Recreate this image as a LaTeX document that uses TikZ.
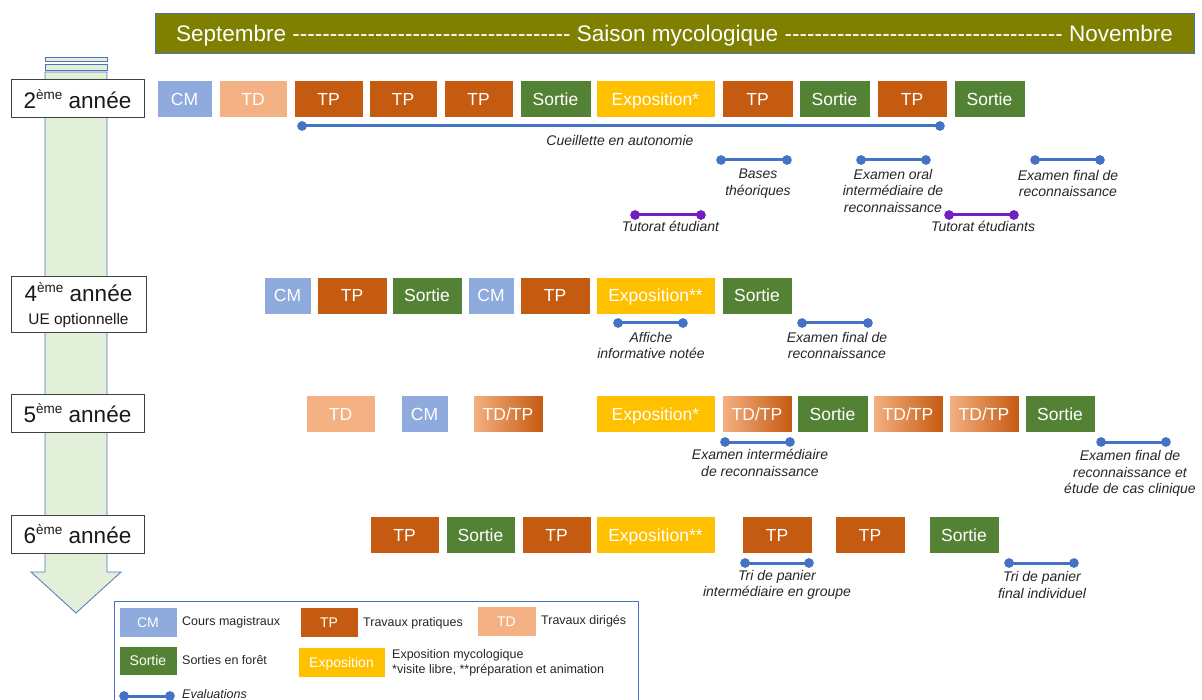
\documentclass[tikz,border=0pt]{standalone}
\usepackage{fontspec}
\setmainfont{Liberation Sans}
\usetikzlibrary{arrows.meta}
\definecolor{cmcol}{HTML}{8FAADC}
\definecolor{tdcol}{HTML}{F4B183}
\definecolor{tpcol}{HTML}{C55A11}
\definecolor{sortcol}{HTML}{548235}
\definecolor{expocol}{HTML}{FFC000}
\definecolor{bancol}{HTML}{808000}
\definecolor{evalcol}{HTML}{4472C4}
\definecolor{tutcol}{HTML}{7020C0}
\definecolor{arrfill}{HTML}{E2EFD9}
\definecolor{arrline}{HTML}{4F74B8}
\definecolor{txtcol}{HTML}{262626}
\newcommand\yrsup[1]{\raisebox{0.75ex}{\fontsize{13.5}{13.5}\selectfont #1}}
\begin{document}
\begin{tikzpicture}[x=1pt,y=-1pt,
  act/.style={draw=white, line width=0.6pt, text=white, inner sep=0pt, minimum height=37pt, text height=12.5pt, text depth=0pt, font=\fontsize{17.5}{20}\selectfont},
  cmbox/.style={act, fill=cmcol},
  tdbox/.style={act, fill=tdcol},
  tpbox/.style={act, fill=tpcol},
  sortbox/.style={act, fill=sortcol},
  expobox/.style={act, fill=expocol},
  tdtpbox/.style={act, left color=tdcol, right color=tpcol},
  legbox/.style={minimum height=30pt, text height=10pt, font=\fontsize{14}{16}\selectfont},
  legtxt/.style={anchor=west, inner sep=0pt, text=black!85, font=\fontsize{12.5}{15}\selectfont},
  evalline/.style={draw=evalcol, line width=3pt, {Circle[length=9.5pt]}-{Circle[length=9.5pt]}, shorten <=-4.7pt, shorten >=-4.7pt},
  tutline/.style={evalline, draw=tutcol},
  lbl/.style={text=txtcol, font=\fontsize{14}{16.5}\selectfont\itshape, align=center, inner sep=0pt},
  yearbox/.style={draw=black!75, fill=white, line width=1pt, text=black!90, font=\fontsize{22.5}{26}\selectfont, inner sep=0pt, minimum width=133pt, minimum height=38pt, align=center},
  banner/.style={draw=evalcol, fill=bancol, line width=0.8pt, text=white, inner sep=0pt, minimum width=1039pt, minimum height=40pt, text height=16.1pt, text depth=0pt, font=\fontsize{22.5}{26}\selectfont}
]
\useasboundingbox (0,0) rectangle (1202,700);

% banner
\node[banner] (ban) at (674.5,33) {\hbox to 997pt{Septembre\ \xleaders\hbox{-}\hfill\ Saison mycologique\ \xleaders\hbox{-}\hfill\ Novembre}};

% left arrow
\draw[fill=arrfill, draw=arrline, line width=0.8pt] (45,57.7) rectangle (107,61.7);
\draw[fill=arrfill, draw=arrline, line width=0.8pt] (45,64.3) rectangle (107,70);
\draw[fill=arrfill, draw=arrline, line width=0.8pt] (45,72) -- (107,72) -- (107,572) -- (121,572) -- (76,613) -- (31,572) -- (45,572) -- cycle;

% year labels
\node[yearbox] (y2) at (77.5,99) {2\yrsup{ème} année};
\node[yearbox, minimum width=135pt, minimum height=56pt] (y4) at (78.5,305) {4\yrsup{ème} année\\[-3pt]{\fontsize{15.4}{17}\selectfont UE optionnelle}};
\node[yearbox] (y5) at (77.5,413.5) {5\yrsup{ème} année};
\node[yearbox] (y6) at (77.5,534.5) {6\yrsup{ème} année};

% row 2eme
\node[cmbox, minimum width=55pt] (a1) at (184.5,99) {CM};
\node[tdbox, minimum width=68pt] (a2) at (253,99) {TD};
\node[tpbox, minimum width=69pt] (a3) at (328.5,99) {TP};
\node[tpbox, minimum width=68pt] (a4) at (403,99) {TP};
\node[tpbox, minimum width=69pt] (a5) at (478.5,99) {TP};
\node[sortbox, minimum width=71pt] (a6) at (555.5,99) {Sortie};
\node[expobox, minimum width=119pt] (a7) at (655.5,99) {Exposition*};
\node[tpbox, minimum width=71pt] (a8) at (757.5,99) {TP};
\node[sortbox, minimum width=71pt] (a9) at (834.5,99) {Sortie};
\node[tpbox, minimum width=70pt] (a10) at (912,99) {TP};
\node[sortbox, minimum width=71pt] (a11) at (989.5,99) {Sortie};

% row 4eme
\node[cmbox, minimum width=47pt] (b1) at (287.5,295.5) {CM};
\node[tpbox, minimum width=70pt] (b2) at (352,295.5) {TP};
\node[sortbox, minimum width=70pt] (b3) at (427,295.5) {Sortie};
\node[cmbox, minimum width=46pt] (b4) at (491,295.5) {CM};
\node[tpbox, minimum width=70pt] (b5) at (555,295.5) {TP};
\node[expobox, minimum width=119pt] (b6) at (655.5,295.5) {Exposition**};
\node[sortbox, minimum width=70pt] (b7) at (757,295.5) {Sortie};

% row 5eme
\node[tdbox, minimum width=69pt] (c1) at (340.5,414) {TD};
\node[cmbox, minimum width=47pt] (c2) at (424.5,414) {CM};
\node[tdtpbox, minimum width=70pt] (c3) at (508,414) {TD/TP};
\node[expobox, minimum width=119pt] (c4) at (655.5,414) {Exposition*};
\node[tdtpbox, minimum width=70pt] (c5) at (757,414) {TD/TP};
\node[sortbox, minimum width=71pt] (c6) at (832.5,414) {Sortie};
\node[tdtpbox, minimum width=70pt] (c7) at (908,414) {TD/TP};
\node[tdtpbox, minimum width=70pt] (c8) at (984,414) {TD/TP};
\node[sortbox, minimum width=70pt] (c9) at (1060,414) {Sortie};

% row 6eme
\node[tpbox, minimum width=69pt] (d1) at (404.5,535) {TP};
\node[sortbox, minimum width=69pt] (d2) at (480.5,535) {Sortie};
\node[tpbox, minimum width=69pt] (d3) at (556.5,535) {TP};
\node[expobox, minimum width=119pt] (d4) at (655.5,535) {Exposition**};
\node[tpbox, minimum width=70pt] (d5) at (777,535) {TP};
\node[tpbox, minimum width=70pt] (d6) at (870,535) {TP};
\node[sortbox, minimum width=70pt] (d7) at (964,535) {Sortie};

% evaluation lines
\coordinate (e1a) at (302,126); \coordinate (e1b) at (940,126);
\coordinate (e2a) at (721,160); \coordinate (e2b) at (787,160);
\coordinate (e3a) at (861,160); \coordinate (e3b) at (926,160);
\coordinate (e4a) at (1035,160); \coordinate (e4b) at (1100,160);
\coordinate (t1a) at (635,215); \coordinate (t1b) at (701,215);
\coordinate (t2a) at (949,215); \coordinate (t2b) at (1014,215);
\coordinate (e5a) at (618,323); \coordinate (e5b) at (683,323);
\coordinate (e6a) at (802,323); \coordinate (e6b) at (868,323);
\coordinate (e7a) at (725,442); \coordinate (e7b) at (790,442);
\coordinate (e8a) at (1101,442); \coordinate (e8b) at (1166,442);
\coordinate (e9a) at (745,563); \coordinate (e9b) at (809,563);
\coordinate (e10a) at (1009,563); \coordinate (e10b) at (1074,563);

\draw[evalline] (e1a) -- (e1b);
\draw[evalline] (e2a) -- (e2b);
\draw[evalline] (e3a) -- (e3b);
\draw[evalline] (e4a) -- (e4b);
\draw[tutline] (t1a) -- (t1b);
\draw[tutline] (t2a) -- (t2b);
\draw[evalline] (e5a) -- (e5b);
\draw[evalline] (e6a) -- (e6b);
\draw[evalline] (e7a) -- (e7b);
\draw[evalline] (e8a) -- (e8b);
\draw[evalline] (e9a) -- (e9b);
\draw[evalline] (e10a) -- (e10b);

% labels
\node[lbl] (l1) at (620,140) {Cueillette en autonomie};
\node[lbl] (l2) at (758,183.5) {Bases\\théoriques};
\node[lbl] (l3) at (893,190.5) {Examen oral\\intermédiaire de\\reconnaissance};
\node[lbl] (l4) at (1068,183.5) {Examen final de\\reconnaissance};
\node[lbl] (l5) at (670.5,226.5) {Tutorat étudiant};
\node[lbl] (l6) at (983,226.5) {Tutorat étudiants};
\node[lbl] (l7) at (651,345.5) {Affiche\\informative notée};
\node[lbl] (l8) at (837,345.5) {Examen final de\\reconnaissance};
\node[lbl] (l9) at (760,463) {Examen intermédiaire\\de reconnaissance};
\node[lbl] (l10) at (1130,473.5) {Examen final de\\reconnaissance et\\étude de cas clinique};
\node[lbl] (l11) at (777,585) {Tri de panier\\intermédiaire en groupe};
\node[lbl] (l12) at (1042,585) {Tri de panier\\final individuel};

% legend
\draw[draw=evalcol, line width=0.9pt] (114,705) -- (114,601) -- (638,601) -- (638,705);
\node[cmbox, legbox, minimum width=58pt] (g1) at (148,622) {CM};
\node[legtxt] (g1t) at (182,622) {Cours magistraux};
\node[tpbox, legbox, minimum width=58pt] (g2) at (329,622) {TP};
\node[legtxt] (g2t) at (363,623) {Travaux pratiques};
\node[tdbox, legbox, minimum width=59pt] (g3) at (506.5,621) {TD};
\node[legtxt] (g3t) at (541,621) {Travaux dirigés};
\node[sortbox, legbox, minimum width=58pt, minimum height=29pt] (g4) at (148,660.5) {Sortie};
\node[legtxt] (g4t) at (182,660) {Sorties en forêt};
\node[expobox, legbox, minimum width=87pt] (g5) at (341.5,662) {Exposition};
\node[legtxt, align=left] (g5t) at (392,662.5) {Exposition mycologique\\*visite libre, **préparation et animation};
\coordinate (gea) at (124,696); \coordinate (geb) at (170,696);
\draw[evalline] (gea) -- (geb);
\node[legtxt, font=\fontsize{12.5}{15}\selectfont\itshape] (g6t) at (182,694) {Evaluations};
\end{tikzpicture}
\end{document}
